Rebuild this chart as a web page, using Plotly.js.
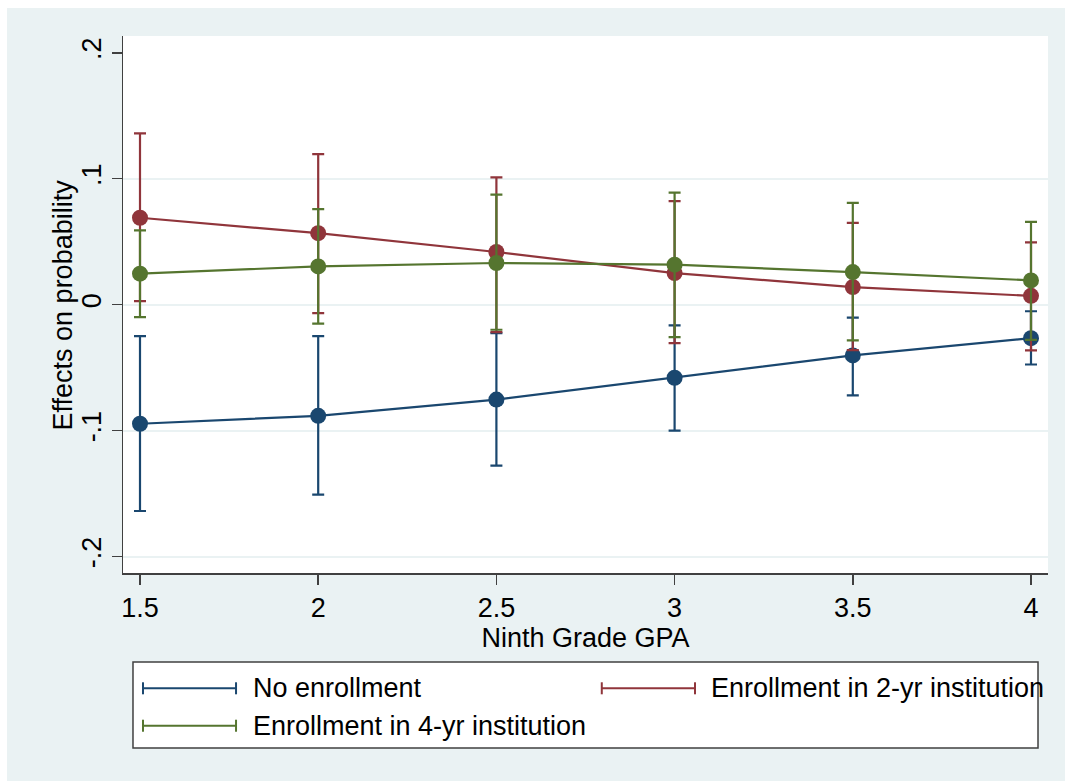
<!DOCTYPE html>
<html>
<head>
<meta charset="utf-8">
<script src="https://cdn.plot.ly/plotly-3.0.1.min.js"></script>
<style>
  html, body { margin: 0; padding: 0; background: #ffffff; }
  #chart { position: absolute; left: 7px; top: 8px; width: 1058px; height: 773px; }
</style>
</head>
<body>
<div id="chart"></div>
<script>
// ---- data ----
var gpa = [1.5, 2, 2.5, 3, 3.5, 4];
var xTickVals = [1.5, 2, 2.5, 3, 3.5, 4];
var xTickText = ['1.5', '2', '2.5', '3', '3.5', '4'];
var yTickVals = [-0.2, -0.1, 0, 0.1, 0.2];
var yTickText = ['-.2', '-.1', '0', '.1', '.2'];
var yGridVals = [-0.2, -0.1, 0, 0.1];

var seriesNames = ['No enrollment', 'Enrollment in 2-yr institution', 'Enrollment in 4-yr institution'];
var xTitle = 'Ninth Grade GPA';
var yTitle = 'Effects on probability';

var noEnroll   = [-0.0945, -0.0882, -0.0753, -0.0580, -0.0403, -0.0266];
var noEnrollLo = [-0.1638, -0.1508, -0.1277, -0.1000, -0.0720, -0.0475];
var noEnrollHi = [-0.0249, -0.0249, -0.0226, -0.0165, -0.0103, -0.0052];

var twoYr   = [0.0690, 0.0568, 0.0418, 0.0251, 0.0140, 0.0070];
var twoYrLo = [0.0029, -0.0067, -0.0218, -0.0305, -0.0360, -0.0363];
var twoYrHi = [0.1360, 0.1195, 0.1010, 0.0822, 0.0649, 0.0495];

var fourYr   = [0.0246, 0.0304, 0.0331, 0.0318, 0.0259, 0.0193];
var fourYrLo = [-0.0098, -0.0151, -0.0199, -0.0257, -0.0284, -0.0280];
var fourYrHi = [0.0590, 0.0759, 0.0874, 0.0889, 0.0808, 0.0657];

var colors = ['#1a476f', '#90353b', '#55752f'];

function mkTrace(name, y, lo, hi, color) {
  return {
    type: 'scatter', mode: 'lines+markers', name: name,
    x: gpa, y: y, showlegend: false,
    line: { color: color, width: 2.2 },
    marker: { color: color, size: 16 },
    error_y: {
      type: 'data', symmetric: false,
      array: hi.map(function (h, i) { return h - y[i]; }),
      arrayminus: lo.map(function (l, i) { return y[i] - l; }),
      color: color, thickness: 2.2, width: 6
    }
  };
}

var traces = [
  { type: 'scatter', x: [gpa[0]], y: [noEnroll[0]], yaxis: 'y2', mode: 'markers',
    marker: { opacity: 0 }, hoverinfo: 'skip', showlegend: false },
  mkTrace(seriesNames[0], noEnroll, noEnrollLo, noEnrollHi, colors[0]),
  mkTrace(seriesNames[1], twoYr, twoYrLo, twoYrHi, colors[1]),
  mkTrace(seriesNames[2], fourYr, fourYrLo, fourYrHi, colors[2])
];

// ---- custom Stata-style legend (shapes + annotations in paper coordinates) ----
var legBox = { x0: 0.0108, x1: 0.9892, y0: -0.3259, y1: -0.1657 };
var legRows = [-0.2147, -0.2147, -0.2844];
var legSymX = [[0.0216, 0.1222], [0.5176, 0.6184], [0.0216, 0.1222]];
var legTextX = [0.1385, 0.6340, 0.1385];
var capH = 0.0112;
var FS = 27;

var shapes = [{
  type: 'rect', xref: 'paper', yref: 'paper',
  x0: legBox.x0, x1: legBox.x1, y0: legBox.y0, y1: legBox.y1,
  fillcolor: '#ffffff', line: { color: '#404040', width: 1.5 }, layer: 'above'
}];
var annotations = [];
for (var i = 0; i < 3; i++) {
  var yy = legRows[i], xs = legSymX[i];
  shapes.push({ type: 'line', xref: 'paper', yref: 'paper', x0: xs[0], x1: xs[1], y0: yy, y1: yy,
    line: { color: colors[i], width: 2 }, layer: 'above' });
  shapes.push({ type: 'line', xref: 'paper', yref: 'paper', x0: xs[0], x1: xs[0], y0: yy - capH, y1: yy + capH,
    line: { color: colors[i], width: 2 }, layer: 'above' });
  shapes.push({ type: 'line', xref: 'paper', yref: 'paper', x0: xs[1], x1: xs[1], y0: yy - capH, y1: yy + capH,
    line: { color: colors[i], width: 2 }, layer: 'above' });
  annotations.push({ xref: 'paper', yref: 'paper', x: legTextX[i], y: yy, xanchor: 'left', yanchor: 'middle',
    text: seriesNames[i], showarrow: false, font: { size: FS, color: '#000000' } });
}
// y-axis title placed like Stata's
annotations.push({ xref: 'paper', yref: 'paper', x: -0.0649, y: 0.5, xanchor: 'center', yanchor: 'middle',
  textangle: -90, text: yTitle, showarrow: false, font: { size: FS, color: '#000000' } });

var fontFam = '"Liberation Sans", Arial, Helvetica, sans-serif';

var layout = {
  width: 1058, height: 773,
  margin: { l: 116, r: 17, t: 28, b: 208 },
  paper_bgcolor: '#eaf2f3',
  plot_bgcolor: '#ffffff',
  font: { family: fontFam, size: FS, color: '#000000' },
  showlegend: false,
  xaxis: {
    range: [1.4523, 4.0477],
    tickmode: 'array', tickvals: xTickVals, ticktext: xTickText,
    ticks: 'outside', ticklen: 10, tickwidth: 1.5, tickcolor: '#404040',
    showline: true, linecolor: '#404040', linewidth: 1.5,
    showgrid: false, zeroline: false,
    tickfont: { size: FS, color: '#000000' },
    title: { text: xTitle, font: { size: FS, color: '#000000' }, standoff: 1 }
  },
  yaxis: {
    range: [-0.213, 0.2133],
    tickmode: 'array', tickvals: yTickVals, ticktext: yTickText,
    tickangle: -90,
    ticks: 'outside', ticklen: 10, tickwidth: 1.5, tickcolor: '#404040',
    showline: true, linecolor: '#404040', linewidth: 1.5,
    showgrid: false, zeroline: false,
    tickfont: { size: FS, color: '#000000' }
  },
  yaxis2: {
    range: [-0.213, 0.2133], overlaying: 'y', side: 'left',
    tickmode: 'array', tickvals: yGridVals, showticklabels: false, ticks: '',
    showgrid: true, gridcolor: '#eaf2f3', gridwidth: 2, zeroline: false, showline: false
  },
  shapes: shapes,
  annotations: annotations
};

Plotly.newPlot('chart', traces, layout, { displayModeBar: false, staticPlot: true });
</script>
</body>
</html>
